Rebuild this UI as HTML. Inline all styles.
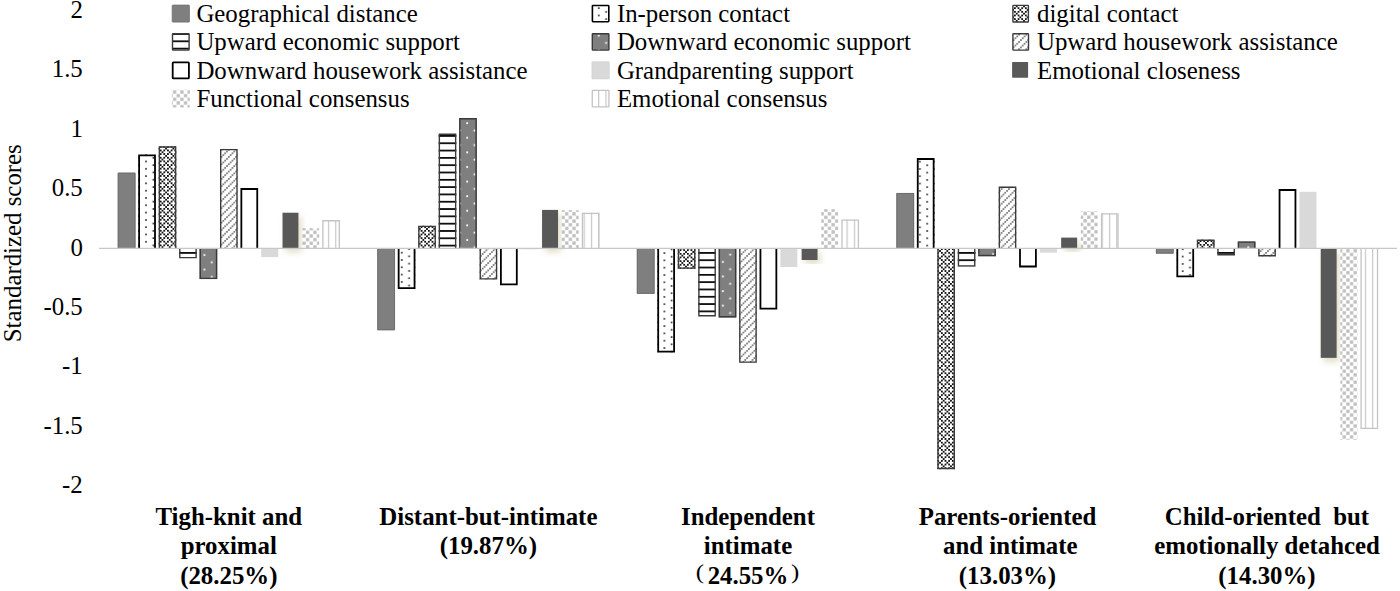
<!DOCTYPE html>
<html><head><meta charset="utf-8"><style>
html,body{margin:0;padding:0;background:#fff;overflow:hidden;}
svg{display:block;}
text{font-family:"Liberation Serif",serif;font-size:24.85px;fill:#000;}
</style></head><body>
<svg width="1400" height="591" viewBox="0 0 1400 591">
<defs>
<pattern id="pd1" patternUnits="userSpaceOnUse" width="14.6" height="7.3" x="145.05" y="160.55"><rect width="14.6" height="7.3" fill="#fff"/><rect x="0.19999999999999996" y="0.19999999999999996" width="1.5" height="1.5" fill="#000"/><rect x="7.5" y="3.8499999999999996" width="1.5" height="1.5" fill="#000"/></pattern>
<pattern id="pm2" patternUnits="userSpaceOnUse" width="7.3" height="7.3" x="161.55" y="147.70"><rect width="7.3" height="7.3" fill="#fff"/><rect x="3.675" y="0.025" width="1.75" height="1.75" fill="#000"/><rect x="1.850" y="1.850" width="1.75" height="1.75" fill="#000"/><rect x="5.500" y="1.850" width="1.75" height="1.75" fill="#000"/><rect x="0.025" y="3.675" width="1.75" height="1.75" fill="#000"/><rect x="1.850" y="5.500" width="1.75" height="1.75" fill="#000"/><rect x="5.500" y="5.500" width="1.75" height="1.75" fill="#000"/></pattern>
<pattern id="ph3" patternUnits="userSpaceOnUse" width="7.3" height="7.31" y="252.00"><rect width="7.3" height="7.31" fill="#fff"/><rect x="0" y="0.050000000000000044" width="7.3" height="1.7" fill="#000"/></pattern>
<pattern id="pw4" patternUnits="userSpaceOnUse" width="14.6" height="14.6" x="203.40" y="253.90"><rect width="14.6" height="14.6" fill="#7f7f7f"/><rect x="0.20000000000000007" y="0.20000000000000007" width="1.8" height="1.8" fill="#fff"/><rect x="7.5" y="7.5" width="1.8" height="1.8" fill="#fff"/></pattern>
<pattern id="pg5" patternUnits="userSpaceOnUse" width="7.3" height="7.3" x="229.75" y="148.75"><rect width="7.3" height="7.3" fill="#fff"/><rect x="0.26" y="5.74" width="1.3" height="1.3" fill="#111"/><rect x="2.09" y="3.91" width="1.3" height="1.3" fill="#111"/><rect x="3.91" y="2.09" width="1.3" height="1.3" fill="#111"/><rect x="5.74" y="0.26" width="1.3" height="1.3" fill="#111"/></pattern>
<pattern id="pc6" patternUnits="userSpaceOnUse" width="7.3" height="7.3" x="305.80" y="230.50"><rect width="7.3" height="7.3" fill="#fff"/><rect x="0.2" y="0.2" width="3.25" height="3.25" fill="#bdbdbd"/><rect x="3.85" y="3.85" width="3.25" height="3.25" fill="#bdbdbd"/></pattern>
<pattern id="pv7" patternUnits="userSpaceOnUse" width="7.3" height="7.3" x="327.90"><rect width="7.3" height="7.3" fill="#fff"/><rect x="0.04999999999999993" y="0" width="1.1" height="7.3" fill="#c3c3c3"/></pattern>
<pattern id="pd8" patternUnits="userSpaceOnUse" width="14.6" height="7.3" x="400.85" y="251.75"><rect width="14.6" height="7.3" fill="#fff"/><rect x="0.19999999999999996" y="0.19999999999999996" width="1.5" height="1.5" fill="#000"/><rect x="7.5" y="3.8499999999999996" width="1.5" height="1.5" fill="#000"/></pattern>
<pattern id="pm9" patternUnits="userSpaceOnUse" width="7.3" height="7.3" x="422.45" y="228.10"><rect width="7.3" height="7.3" fill="#fff"/><rect x="3.675" y="0.025" width="1.75" height="1.75" fill="#000"/><rect x="1.850" y="1.850" width="1.75" height="1.75" fill="#000"/><rect x="5.500" y="1.850" width="1.75" height="1.75" fill="#000"/><rect x="0.025" y="3.675" width="1.75" height="1.75" fill="#000"/><rect x="1.850" y="5.500" width="1.75" height="1.75" fill="#000"/><rect x="5.500" y="5.500" width="1.75" height="1.75" fill="#000"/></pattern>
<pattern id="ph10" patternUnits="userSpaceOnUse" width="7.3" height="7.31" y="252.00"><rect width="7.3" height="7.31" fill="#fff"/><rect x="0" y="0.050000000000000044" width="7.3" height="1.7" fill="#000"/></pattern>
<pattern id="pw11" patternUnits="userSpaceOnUse" width="14.6" height="14.6" x="466.10" y="122.10"><rect width="14.6" height="14.6" fill="#7f7f7f"/><rect x="0.20000000000000007" y="0.20000000000000007" width="1.8" height="1.8" fill="#fff"/><rect x="7.5" y="7.5" width="1.8" height="1.8" fill="#fff"/></pattern>
<pattern id="pg12" patternUnits="userSpaceOnUse" width="7.3" height="7.3" x="478.15" y="258.55"><rect width="7.3" height="7.3" fill="#fff"/><rect x="0.26" y="5.74" width="1.3" height="1.3" fill="#111"/><rect x="2.09" y="3.91" width="1.3" height="1.3" fill="#111"/><rect x="3.91" y="2.09" width="1.3" height="1.3" fill="#111"/><rect x="5.74" y="0.26" width="1.3" height="1.3" fill="#111"/></pattern>
<pattern id="pc13" patternUnits="userSpaceOnUse" width="7.3" height="7.3" x="564.90" y="212.00"><rect width="7.3" height="7.3" fill="#fff"/><rect x="0.2" y="0.2" width="3.25" height="3.25" fill="#bdbdbd"/><rect x="3.85" y="3.85" width="3.25" height="3.25" fill="#bdbdbd"/></pattern>
<pattern id="pv14" patternUnits="userSpaceOnUse" width="7.3" height="7.3" x="590.90"><rect width="7.3" height="7.3" fill="#fff"/><rect x="0.04999999999999993" y="0" width="1.1" height="7.3" fill="#c3c3c3"/></pattern>
<pattern id="pd15" patternUnits="userSpaceOnUse" width="14.6" height="7.3" x="663.45" y="281.35"><rect width="14.6" height="7.3" fill="#fff"/><rect x="0.19999999999999996" y="0.19999999999999996" width="1.5" height="1.5" fill="#000"/><rect x="7.5" y="3.8499999999999996" width="1.5" height="1.5" fill="#000"/></pattern>
<pattern id="pm16" patternUnits="userSpaceOnUse" width="7.3" height="7.3" x="681.45" y="251.10"><rect width="7.3" height="7.3" fill="#fff"/><rect x="3.675" y="0.025" width="1.75" height="1.75" fill="#000"/><rect x="1.850" y="1.850" width="1.75" height="1.75" fill="#000"/><rect x="5.500" y="1.850" width="1.75" height="1.75" fill="#000"/><rect x="0.025" y="3.675" width="1.75" height="1.75" fill="#000"/><rect x="1.850" y="5.500" width="1.75" height="1.75" fill="#000"/><rect x="5.500" y="5.500" width="1.75" height="1.75" fill="#000"/></pattern>
<pattern id="ph17" patternUnits="userSpaceOnUse" width="7.3" height="7.31" y="252.00"><rect width="7.3" height="7.31" fill="#fff"/><rect x="0" y="0.050000000000000044" width="7.3" height="1.7" fill="#000"/></pattern>
<pattern id="pw18" patternUnits="userSpaceOnUse" width="14.6" height="14.6" x="721.80" y="260.80"><rect width="14.6" height="14.6" fill="#7f7f7f"/><rect x="0.20000000000000007" y="0.20000000000000007" width="1.8" height="1.8" fill="#fff"/><rect x="7.5" y="7.5" width="1.8" height="1.8" fill="#fff"/></pattern>
<pattern id="pg19" patternUnits="userSpaceOnUse" width="7.3" height="7.3" x="744.35" y="251.35"><rect width="7.3" height="7.3" fill="#fff"/><rect x="0.26" y="5.74" width="1.3" height="1.3" fill="#111"/><rect x="2.09" y="3.91" width="1.3" height="1.3" fill="#111"/><rect x="3.91" y="2.09" width="1.3" height="1.3" fill="#111"/><rect x="5.74" y="0.26" width="1.3" height="1.3" fill="#111"/></pattern>
<pattern id="pc20" patternUnits="userSpaceOnUse" width="7.3" height="7.3" x="824.00" y="208.30"><rect width="7.3" height="7.3" fill="#fff"/><rect x="0.2" y="0.2" width="3.25" height="3.25" fill="#bdbdbd"/><rect x="3.85" y="3.85" width="3.25" height="3.25" fill="#bdbdbd"/></pattern>
<pattern id="pv21" patternUnits="userSpaceOnUse" width="7.3" height="7.3" x="846.50"><rect width="7.3" height="7.3" fill="#fff"/><rect x="0.04999999999999993" y="0" width="1.1" height="7.3" fill="#c3c3c3"/></pattern>
<pattern id="pd22" patternUnits="userSpaceOnUse" width="14.6" height="7.3" x="926.25" y="164.35"><rect width="14.6" height="7.3" fill="#fff"/><rect x="0.19999999999999996" y="0.19999999999999996" width="1.5" height="1.5" fill="#000"/><rect x="7.5" y="3.8499999999999996" width="1.5" height="1.5" fill="#000"/></pattern>
<pattern id="pm23" patternUnits="userSpaceOnUse" width="7.3" height="7.3" x="942.75" y="250.10"><rect width="7.3" height="7.3" fill="#fff"/><rect x="3.675" y="0.025" width="1.75" height="1.75" fill="#000"/><rect x="1.850" y="1.850" width="1.75" height="1.75" fill="#000"/><rect x="5.500" y="1.850" width="1.75" height="1.75" fill="#000"/><rect x="0.025" y="3.675" width="1.75" height="1.75" fill="#000"/><rect x="1.850" y="5.500" width="1.75" height="1.75" fill="#000"/><rect x="5.500" y="5.500" width="1.75" height="1.75" fill="#000"/></pattern>
<pattern id="ph24" patternUnits="userSpaceOnUse" width="7.3" height="7.31" y="252.00"><rect width="7.3" height="7.31" fill="#fff"/><rect x="0" y="0.050000000000000044" width="7.3" height="1.7" fill="#000"/></pattern>
<pattern id="pw25" patternUnits="userSpaceOnUse" width="14.6" height="14.6" x="991.90" y="253.10"><rect width="14.6" height="14.6" fill="#7f7f7f"/><rect x="0.20000000000000007" y="0.20000000000000007" width="1.8" height="1.8" fill="#fff"/><rect x="7.5" y="7.5" width="1.8" height="1.8" fill="#fff"/></pattern>
<pattern id="pg26" patternUnits="userSpaceOnUse" width="7.3" height="7.3" x="1004.35" y="186.35"><rect width="7.3" height="7.3" fill="#fff"/><rect x="0.26" y="5.74" width="1.3" height="1.3" fill="#111"/><rect x="2.09" y="3.91" width="1.3" height="1.3" fill="#111"/><rect x="3.91" y="2.09" width="1.3" height="1.3" fill="#111"/><rect x="5.74" y="0.26" width="1.3" height="1.3" fill="#111"/></pattern>
<pattern id="pc27" patternUnits="userSpaceOnUse" width="7.3" height="7.3" x="1083.30" y="211.70"><rect width="7.3" height="7.3" fill="#fff"/><rect x="0.2" y="0.2" width="3.25" height="3.25" fill="#bdbdbd"/><rect x="3.85" y="3.85" width="3.25" height="3.25" fill="#bdbdbd"/></pattern>
<pattern id="pv28" patternUnits="userSpaceOnUse" width="7.3" height="7.3" x="1108.90"><rect width="7.3" height="7.3" fill="#fff"/><rect x="0.04999999999999993" y="0" width="1.1" height="7.3" fill="#c3c3c3"/></pattern>
<pattern id="pd29" patternUnits="userSpaceOnUse" width="14.6" height="7.3" x="1181.75" y="255.65"><rect width="14.6" height="7.3" fill="#fff"/><rect x="0.19999999999999996" y="0.19999999999999996" width="1.5" height="1.5" fill="#000"/><rect x="7.5" y="3.8499999999999996" width="1.5" height="1.5" fill="#000"/></pattern>
<pattern id="pm30" patternUnits="userSpaceOnUse" width="7.3" height="7.3" x="1201.45" y="242.10"><rect width="7.3" height="7.3" fill="#fff"/><rect x="3.675" y="0.025" width="1.75" height="1.75" fill="#000"/><rect x="1.850" y="1.850" width="1.75" height="1.75" fill="#000"/><rect x="5.500" y="1.850" width="1.75" height="1.75" fill="#000"/><rect x="0.025" y="3.675" width="1.75" height="1.75" fill="#000"/><rect x="1.850" y="5.500" width="1.75" height="1.75" fill="#000"/><rect x="5.500" y="5.500" width="1.75" height="1.75" fill="#000"/></pattern>
<pattern id="ph31" patternUnits="userSpaceOnUse" width="7.3" height="7.31" y="252.00"><rect width="7.3" height="7.31" fill="#fff"/><rect x="0" y="0.050000000000000044" width="7.3" height="1.7" fill="#000"/></pattern>
<pattern id="pw32" patternUnits="userSpaceOnUse" width="14.6" height="14.6" x="1247.20" y="246.20"><rect width="14.6" height="14.6" fill="#7f7f7f"/><rect x="0.20000000000000007" y="0.20000000000000007" width="1.8" height="1.8" fill="#fff"/><rect x="7.5" y="7.5" width="1.8" height="1.8" fill="#fff"/></pattern>
<pattern id="pg33" patternUnits="userSpaceOnUse" width="7.3" height="7.3" x="1263.35" y="248.35"><rect width="7.3" height="7.3" fill="#fff"/><rect x="0.26" y="5.74" width="1.3" height="1.3" fill="#111"/><rect x="2.09" y="3.91" width="1.3" height="1.3" fill="#111"/><rect x="3.91" y="2.09" width="1.3" height="1.3" fill="#111"/><rect x="5.74" y="0.26" width="1.3" height="1.3" fill="#111"/></pattern>
<pattern id="pc34" patternUnits="userSpaceOnUse" width="7.3" height="7.3" x="1346.10" y="409.60"><rect width="7.3" height="7.3" fill="#fff"/><rect x="0.2" y="0.2" width="3.25" height="3.25" fill="#bdbdbd"/><rect x="3.85" y="3.85" width="3.25" height="3.25" fill="#bdbdbd"/></pattern>
<pattern id="pv35" patternUnits="userSpaceOnUse" width="7.3" height="7.3" x="1364.80"><rect width="7.3" height="7.3" fill="#fff"/><rect x="0.04999999999999993" y="0" width="1.1" height="7.3" fill="#c3c3c3"/></pattern>
<pattern id="pd36" patternUnits="userSpaceOnUse" width="14.6" height="7.3" x="597.85" y="7.25"><rect width="14.6" height="7.3" fill="#fff"/><rect x="0.19999999999999996" y="0.19999999999999996" width="1.5" height="1.5" fill="#000"/><rect x="7.5" y="3.8499999999999996" width="1.5" height="1.5" fill="#000"/></pattern>
<pattern id="pm37" patternUnits="userSpaceOnUse" width="7.3" height="7.3" x="1012.15" y="5.45"><rect width="7.3" height="7.3" fill="#fff"/><rect x="3.675" y="0.025" width="1.75" height="1.75" fill="#000"/><rect x="1.850" y="1.850" width="1.75" height="1.75" fill="#000"/><rect x="5.500" y="1.850" width="1.75" height="1.75" fill="#000"/><rect x="0.025" y="3.675" width="1.75" height="1.75" fill="#000"/><rect x="1.850" y="5.500" width="1.75" height="1.75" fill="#000"/><rect x="5.500" y="5.500" width="1.75" height="1.75" fill="#000"/></pattern>
<pattern id="ph38" patternUnits="userSpaceOnUse" width="7.3" height="7.31" y="40.40"><rect width="7.3" height="7.31" fill="#fff"/><rect x="0" y="0.050000000000000044" width="7.3" height="1.7" fill="#000"/></pattern>
<pattern id="pw39" patternUnits="userSpaceOnUse" width="14.6" height="14.6" x="597.70" y="34.50"><rect width="14.6" height="14.6" fill="#7f7f7f"/><rect x="0.20000000000000007" y="0.20000000000000007" width="1.8" height="1.8" fill="#fff"/><rect x="7.5" y="7.5" width="1.8" height="1.8" fill="#fff"/></pattern>
<pattern id="pg40" patternUnits="userSpaceOnUse" width="7.3" height="7.3" x="1016.35" y="37.35"><rect width="7.3" height="7.3" fill="#fff"/><rect x="0.26" y="5.74" width="1.3" height="1.3" fill="#111"/><rect x="2.09" y="3.91" width="1.3" height="1.3" fill="#111"/><rect x="3.91" y="2.09" width="1.3" height="1.3" fill="#111"/><rect x="5.74" y="0.26" width="1.3" height="1.3" fill="#111"/></pattern>
<pattern id="pc41" patternUnits="userSpaceOnUse" width="7.3" height="7.3" x="172.80" y="90.20"><rect width="7.3" height="7.3" fill="#fff"/><rect x="0.2" y="0.2" width="3.25" height="3.25" fill="#bdbdbd"/><rect x="3.85" y="3.85" width="3.25" height="3.25" fill="#bdbdbd"/></pattern>
<pattern id="pv42" patternUnits="userSpaceOnUse" width="7.3" height="7.3" x="598.10"><rect width="7.3" height="7.3" fill="#fff"/><rect x="0.04999999999999993" y="0" width="1.1" height="7.3" fill="#c3c3c3"/></pattern>
<filter id="shd" x="-50%" y="-20%" width="200%" height="150%">
  <feGaussianBlur in="SourceAlpha" stdDeviation="3.2"/>
  <feOffset dx="2.5" dy="3.5" result="b"/>
  <feFlood flood-color="#d6cfb0" flood-opacity="0.7"/>
  <feComposite in2="b" operator="in"/>
  <feMerge><feMergeNode/><feMergeNode in="SourceGraphic"/></feMerge>
 </filter>
</defs>
<rect width="1400" height="591" fill="#fff"/>
<rect x="117.75" y="172.70" width="17.70" height="75.50" fill="#7f7f7f"/><path d="M118.20 248.20 V173.15 H135.00 V248.20" fill="none" stroke="#6c6c6c" stroke-width="0.9" stroke-linejoin="miter"/>
<rect x="138.20" y="154.40" width="17.70" height="93.80" fill="url(#pd1)"/><path d="M139.10 248.20 V155.30 H155.00 V248.20" fill="none" stroke="#000" stroke-width="1.8" stroke-linejoin="miter"/>
<rect x="158.65" y="146.30" width="17.70" height="101.90" fill="url(#pm2)"/><path d="M159.35 248.20 V147.00 H175.65 V248.20" fill="none" stroke="#3a3a3a" stroke-width="1.4" stroke-linejoin="miter"/>
<rect x="179.10" y="248.20" width="17.70" height="10.10" fill="url(#ph3)"/><path d="M179.80 248.20 V257.60 H196.10 V248.20" fill="none" stroke="#3a3a3a" stroke-width="1.4" stroke-linejoin="miter"/>
<rect x="199.55" y="248.20" width="17.70" height="30.90" fill="url(#pw4)"/><path d="M200.25 248.20 V278.40 H216.55 V248.20" fill="none" stroke="#3a3a3a" stroke-width="1.4" stroke-linejoin="miter"/>
<rect x="220.00" y="148.90" width="17.70" height="99.30" fill="url(#pg5)"/><path d="M220.70 248.20 V149.60 H237.00 V248.20" fill="none" stroke="#3a3a3a" stroke-width="1.4" stroke-linejoin="miter"/>
<rect x="240.45" y="188.10" width="17.70" height="60.10" fill="#fff"/><path d="M241.35 248.20 V189.00 H257.25 V248.20" fill="none" stroke="#000" stroke-width="1.8" stroke-linejoin="miter"/>
<rect x="261.25" y="248.20" width="17.00" height="8.90" fill="#d9d9d9"/>
<rect x="282.50" y="212.70" width="16.00" height="35.50" fill="#595959" filter="url(#shd)"/>
<rect x="302.15" y="228.20" width="17.00" height="20.00" fill="url(#pc6)"/>
<rect x="322.25" y="220.10" width="17.70" height="28.10" fill="url(#pv7)"/><path d="M322.90 248.20 V220.75 H339.30 V248.20" fill="none" stroke="#c3c3c3" stroke-width="1.3" stroke-linejoin="miter"/>
<rect x="377.30" y="248.20" width="17.70" height="82.00" fill="#7f7f7f"/><path d="M377.75 248.20 V329.75 H394.55 V248.20" fill="none" stroke="#6c6c6c" stroke-width="0.9" stroke-linejoin="miter"/>
<rect x="397.75" y="248.20" width="17.70" height="40.90" fill="url(#pd8)"/><path d="M398.65 248.20 V288.20 H414.55 V248.20" fill="none" stroke="#000" stroke-width="1.8" stroke-linejoin="miter"/>
<rect x="418.20" y="225.70" width="17.70" height="22.50" fill="url(#pm9)"/><path d="M418.90 248.20 V226.40 H435.20 V248.20" fill="none" stroke="#3a3a3a" stroke-width="1.4" stroke-linejoin="miter"/>
<rect x="438.65" y="133.60" width="17.70" height="114.60" fill="url(#ph10)"/><path d="M439.35 248.20 V134.30 H455.65 V248.20" fill="none" stroke="#3a3a3a" stroke-width="1.4" stroke-linejoin="miter"/>
<rect x="459.10" y="118.10" width="17.70" height="130.10" fill="url(#pw11)"/><path d="M459.80 248.20 V118.80 H476.10 V248.20" fill="none" stroke="#3a3a3a" stroke-width="1.4" stroke-linejoin="miter"/>
<rect x="479.55" y="248.20" width="17.70" height="31.40" fill="url(#pg12)"/><path d="M480.25 248.20 V278.90 H496.55 V248.20" fill="none" stroke="#3a3a3a" stroke-width="1.4" stroke-linejoin="miter"/>
<rect x="500.00" y="248.20" width="17.70" height="37.00" fill="#fff"/><path d="M500.90 248.20 V284.30 H516.80 V248.20" fill="none" stroke="#000" stroke-width="1.8" stroke-linejoin="miter"/>
<rect x="520.80" y="248.20" width="17.00" height="1.10" fill="#d9d9d9"/>
<rect x="542.05" y="209.90" width="16.00" height="38.30" fill="#595959" filter="url(#shd)"/>
<rect x="561.70" y="210.20" width="17.00" height="38.00" fill="url(#pc13)"/>
<rect x="581.80" y="212.80" width="17.70" height="35.40" fill="url(#pv14)"/><path d="M582.45 248.20 V213.45 H598.85 V248.20" fill="none" stroke="#c3c3c3" stroke-width="1.3" stroke-linejoin="miter"/>
<rect x="636.85" y="248.20" width="17.70" height="45.60" fill="#7f7f7f"/><path d="M637.30 248.20 V293.35 H654.10 V248.20" fill="none" stroke="#6c6c6c" stroke-width="0.9" stroke-linejoin="miter"/>
<rect x="657.30" y="248.20" width="17.70" height="104.40" fill="url(#pd15)"/><path d="M658.20 248.20 V351.70 H674.10 V248.20" fill="none" stroke="#000" stroke-width="1.8" stroke-linejoin="miter"/>
<rect x="677.75" y="248.20" width="17.70" height="20.60" fill="url(#pm16)"/><path d="M678.45 248.20 V268.10 H694.75 V248.20" fill="none" stroke="#3a3a3a" stroke-width="1.4" stroke-linejoin="miter"/>
<rect x="698.20" y="248.20" width="17.70" height="68.30" fill="url(#ph17)"/><path d="M698.90 248.20 V315.80 H715.20 V248.20" fill="none" stroke="#3a3a3a" stroke-width="1.4" stroke-linejoin="miter"/>
<rect x="718.65" y="248.20" width="17.70" height="69.30" fill="url(#pw18)"/><path d="M719.35 248.20 V316.80 H735.65 V248.20" fill="none" stroke="#3a3a3a" stroke-width="1.4" stroke-linejoin="miter"/>
<rect x="739.10" y="248.20" width="17.70" height="114.60" fill="url(#pg19)"/><path d="M739.80 248.20 V362.10 H756.10 V248.20" fill="none" stroke="#3a3a3a" stroke-width="1.4" stroke-linejoin="miter"/>
<rect x="759.55" y="248.20" width="17.70" height="61.40" fill="#fff"/><path d="M760.45 248.20 V308.70 H776.35 V248.20" fill="none" stroke="#000" stroke-width="1.8" stroke-linejoin="miter"/>
<rect x="780.35" y="248.20" width="17.00" height="18.80" fill="#d9d9d9"/>
<rect x="801.60" y="248.20" width="16.00" height="11.80" fill="#595959" filter="url(#shd)"/>
<rect x="821.25" y="209.20" width="17.00" height="39.00" fill="url(#pc20)"/>
<rect x="841.35" y="219.40" width="17.70" height="28.80" fill="url(#pv21)"/><path d="M842.00 248.20 V220.05 H858.40 V248.20" fill="none" stroke="#c3c3c3" stroke-width="1.3" stroke-linejoin="miter"/>
<rect x="896.40" y="193.00" width="17.70" height="55.20" fill="#7f7f7f"/><path d="M896.85 248.20 V193.45 H913.65 V248.20" fill="none" stroke="#6c6c6c" stroke-width="0.9" stroke-linejoin="miter"/>
<rect x="916.85" y="158.10" width="17.70" height="90.10" fill="url(#pd22)"/><path d="M917.75 248.20 V159.00 H933.65 V248.20" fill="none" stroke="#000" stroke-width="1.8" stroke-linejoin="miter"/>
<rect x="937.30" y="248.20" width="17.70" height="221.00" fill="url(#pm23)"/><path d="M938.00 248.20 V468.50 H954.30 V248.20" fill="none" stroke="#3a3a3a" stroke-width="1.4" stroke-linejoin="miter"/>
<rect x="957.75" y="248.20" width="17.70" height="18.40" fill="url(#ph24)"/><path d="M958.45 248.20 V265.90 H974.75 V248.20" fill="none" stroke="#3a3a3a" stroke-width="1.4" stroke-linejoin="miter"/>
<rect x="978.20" y="248.20" width="17.70" height="8.00" fill="url(#pw25)"/><path d="M978.90 248.20 V255.50 H995.20 V248.20" fill="none" stroke="#3a3a3a" stroke-width="1.4" stroke-linejoin="miter"/>
<rect x="998.65" y="186.50" width="17.70" height="61.70" fill="url(#pg26)"/><path d="M999.35 248.20 V187.20 H1015.65 V248.20" fill="none" stroke="#3a3a3a" stroke-width="1.4" stroke-linejoin="miter"/>
<rect x="1019.10" y="248.20" width="17.70" height="19.20" fill="#fff"/><path d="M1020.00 248.20 V266.50 H1035.90 V248.20" fill="none" stroke="#000" stroke-width="1.8" stroke-linejoin="miter"/>
<rect x="1039.90" y="248.20" width="17.00" height="4.50" fill="#d9d9d9"/>
<rect x="1061.15" y="237.60" width="16.00" height="10.60" fill="#595959" filter="url(#shd)"/>
<rect x="1080.80" y="211.00" width="17.00" height="37.20" fill="url(#pc27)"/>
<rect x="1100.90" y="213.30" width="17.70" height="34.90" fill="url(#pv28)"/><path d="M1101.55 248.20 V213.95 H1117.95 V248.20" fill="none" stroke="#c3c3c3" stroke-width="1.3" stroke-linejoin="miter"/>
<rect x="1155.95" y="248.20" width="17.70" height="5.40" fill="#7f7f7f"/><path d="M1156.40 248.20 V253.15 H1173.20 V248.20" fill="none" stroke="#6c6c6c" stroke-width="0.9" stroke-linejoin="miter"/>
<rect x="1176.40" y="248.20" width="17.70" height="29.00" fill="url(#pd29)"/><path d="M1177.30 248.20 V276.30 H1193.20 V248.20" fill="none" stroke="#000" stroke-width="1.8" stroke-linejoin="miter"/>
<rect x="1196.85" y="239.60" width="17.70" height="8.60" fill="url(#pm30)"/><path d="M1197.55 248.20 V240.30 H1213.85 V248.20" fill="none" stroke="#3a3a3a" stroke-width="1.4" stroke-linejoin="miter"/>
<rect x="1217.30" y="248.20" width="17.70" height="7.20" fill="url(#ph31)"/><path d="M1218.00 248.20 V254.70 H1234.30 V248.20" fill="none" stroke="#3a3a3a" stroke-width="1.4" stroke-linejoin="miter"/>
<rect x="1237.75" y="241.40" width="17.70" height="6.80" fill="url(#pw32)"/><path d="M1238.45 248.20 V242.10 H1254.75 V248.20" fill="none" stroke="#3a3a3a" stroke-width="1.4" stroke-linejoin="miter"/>
<rect x="1258.20" y="248.20" width="17.70" height="8.20" fill="url(#pg33)"/><path d="M1258.90 248.20 V255.70 H1275.20 V248.20" fill="none" stroke="#3a3a3a" stroke-width="1.4" stroke-linejoin="miter"/>
<rect x="1278.65" y="189.10" width="17.70" height="59.10" fill="#fff"/><path d="M1279.55 248.20 V190.00 H1295.45 V248.20" fill="none" stroke="#000" stroke-width="1.8" stroke-linejoin="miter"/>
<rect x="1299.45" y="191.80" width="17.00" height="56.40" fill="#d9d9d9"/>
<rect x="1320.70" y="248.20" width="16.00" height="109.70" fill="#595959" filter="url(#shd)"/>
<rect x="1340.35" y="248.20" width="17.00" height="191.60" fill="url(#pc34)"/>
<rect x="1360.45" y="248.20" width="17.70" height="180.80" fill="url(#pv35)"/><path d="M1361.10 248.20 V428.35 H1377.50 V248.20" fill="none" stroke="#c3c3c3" stroke-width="1.3" stroke-linejoin="miter"/>
<line x1="99" y1="248.45" x2="1397" y2="248.45" stroke="#c8c8c8" stroke-width="1.25"/>
<rect x="172.20" y="5.10" width="17.20" height="17.00" fill="#7f7f7f" stroke="#6f6f6f" stroke-width="0.8" rx="0.6"/>
<text x="196.4" y="21.9">Geographical distance</text>
<rect x="592.40" y="5.50" width="16.40" height="16.20" fill="url(#pd36)" stroke="#000" stroke-width="1.6" rx="0.6"/>
<text x="616.9" y="21.9">In-person contact</text>
<rect x="1012.90" y="5.40" width="15.50" height="16.60" fill="url(#pm37)" stroke="#3a3a3a" stroke-width="1.4" rx="0.6"/>
<text x="1037.0" y="21.9">digital contact</text>
<rect x="172.50" y="33.70" width="16.60" height="16.40" fill="url(#ph38)" stroke="#3a3a3a" stroke-width="1.4" rx="0.6"/>
<text x="196.4" y="50.2">Upward economic support</text>
<rect x="592.30" y="33.70" width="16.60" height="16.40" fill="url(#pw39)" stroke="#3a3a3a" stroke-width="1.4" rx="0.6"/>
<text x="616.9" y="50.2">Downward economic support</text>
<rect x="1012.90" y="33.70" width="15.60" height="16.40" fill="url(#pg40)" stroke="#3a3a3a" stroke-width="1.4" rx="0.6"/>
<text x="1037.0" y="50.2">Upward housework assistance</text>
<rect x="172.70" y="62.30" width="16.20" height="16.00" fill="#fff" stroke="#000" stroke-width="1.8" rx="0.6"/>
<text x="196.4" y="78.6">Downward housework assistance</text>
<rect x="591.90" y="61.70" width="17.40" height="17.20" fill="#d9d9d9" stroke="#d0d0d0" stroke-width="0.6" rx="0.6"/>
<text x="616.9" y="78.6">Grandparenting support</text>
<rect x="1012.10" y="61.90" width="16.00" height="15.80" fill="#595959" rx="0.6"/>
<text x="1037.0" y="78.6">Emotional closeness</text>
<rect x="171.80" y="89.70" width="18.00" height="17.80" fill="url(#pc41)" rx="0.6"/>
<text x="196.4" y="106.9">Functional consensus</text>
<rect x="592.25" y="90.35" width="16.70" height="16.50" fill="url(#pv42)" stroke="#c3c3c3" stroke-width="1.3" rx="0.6"/>
<text x="616.9" y="106.9">Emotional consensus</text>
<text x="82.8" y="18.0" text-anchor="end">2</text>
<text x="82.8" y="77.4" text-anchor="end">1.5</text>
<text x="82.8" y="136.8" text-anchor="end">1</text>
<text x="82.8" y="196.2" text-anchor="end">0.5</text>
<text x="82.8" y="255.6" text-anchor="end">0</text>
<text x="82.8" y="315.0" text-anchor="end">-0.5</text>
<text x="82.8" y="374.4" text-anchor="end">-1</text>
<text x="82.8" y="433.8" text-anchor="end">-1.5</text>
<text x="82.8" y="493.2" text-anchor="end">-2</text>
<text transform="translate(20.6,243.2) rotate(-90)" text-anchor="middle">Standardized scores</text>
<text x="228.8" y="524.5" text-anchor="middle" font-weight="bold">Tigh-knit and</text>
<text x="228.8" y="554.3" text-anchor="middle" font-weight="bold">proximal</text>
<text x="228.8" y="583.6" text-anchor="middle" font-weight="bold">(28.25%)</text>
<text x="488.4" y="524.5" text-anchor="middle" font-weight="bold">Distant-but-intimate</text>
<text x="488.4" y="554.3" text-anchor="middle" font-weight="bold">(19.87%)</text>
<text x="748.0" y="524.5" text-anchor="middle" font-weight="bold">Independent</text>
<text x="748.0" y="554.3" text-anchor="middle" font-weight="bold">intimate</text>
<text x="748.0" y="583.6" text-anchor="middle" font-weight="bold">24.55%</text>
<text x="695.8" y="579.4" transform="translate(0,579.4) scale(1,0.885) translate(0,-579.4)">(</text>
<text x="791.0" y="579.4" transform="translate(0,579.4) scale(1,0.885) translate(0,-579.4)">)</text>
<text x="1007.5" y="524.5" text-anchor="middle" font-weight="bold">Parents-oriented</text>
<text x="1010.3" y="554.3" text-anchor="middle" font-weight="bold">and intimate</text>
<text x="1007.5" y="583.6" text-anchor="middle" font-weight="bold">(13.03%)</text>
<text x="1267.0" y="524.5" text-anchor="middle" font-weight="bold">Child-oriented  but</text>
<text x="1267.0" y="554.3" text-anchor="middle" font-weight="bold">emotionally detahced</text>
<text x="1267.0" y="583.6" text-anchor="middle" font-weight="bold">(14.30%)</text>
</svg>
</body></html>
